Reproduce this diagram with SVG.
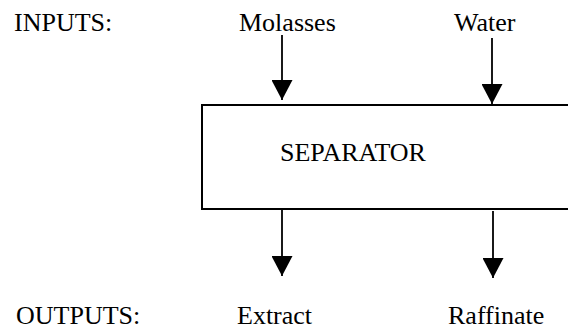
<svg xmlns="http://www.w3.org/2000/svg" width="568" height="329" viewBox="0 0 568 329">
  <style>
    text { font-family: "Liberation Serif", "Times New Roman", serif; font-size: 26px; fill: #000; }
    .box { fill: #fff; stroke: #000; stroke-width: 2; }
    .conn { stroke: #000; stroke-width: 1.8; fill: none; marker-end: url(#arrow); }
  </style>
  <defs>
    <marker id="arrow" markerUnits="userSpaceOnUse" markerWidth="20" markerHeight="21" refX="20" refY="10.5" orient="auto">
      <path d="M0,0 L20,10.5 L0,21 Z" fill="#000"/>
    </marker>
  </defs>
  <g id="labels">
    <text x="14" y="31">INPUTS:</text>
    <text x="16" y="324">OUTPUTS:</text>
  </g>
  <g id="molasses"><text x="239" y="31">Molasses</text></g>
  <g id="water"><text x="454" y="31">Water</text></g>
  <g id="separator">
    <rect class="box" x="202" y="105" width="380" height="104"/>
    <text x="280" y="161">SEPARATOR</text>
  </g>
  <g id="extract"><text x="237" y="324">Extract</text></g>
  <g id="raffinate"><text x="448" y="324">Raffinate</text></g>
  <g id="connectors">
    <line class="conn" x1="282" y1="35" x2="282" y2="100"/>
    <line class="conn" x1="492" y1="38" x2="492" y2="104"/>
    <line class="conn" x1="282" y1="210" x2="282" y2="276"/>
    <line class="conn" x1="493" y1="211" x2="493" y2="278"/>
  </g>
</svg>
